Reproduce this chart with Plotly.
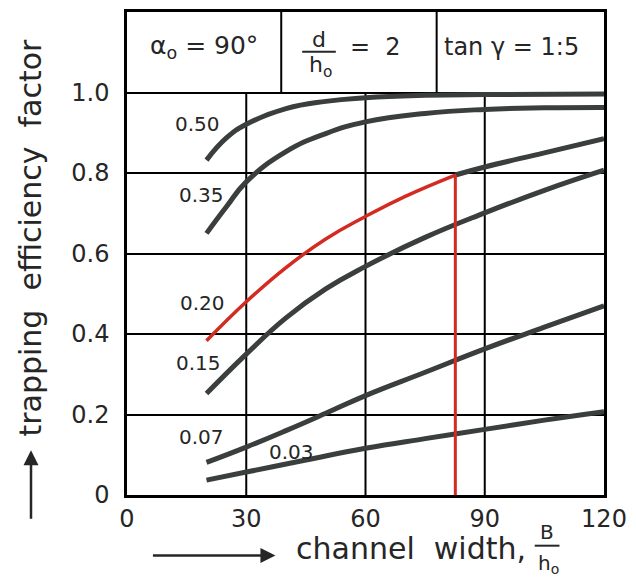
import plotly.graph_objects as go

# ---------------- data ----------------
x_050 = [20, 25, 30, 40, 50, 60, 75, 90, 120]
y_050 = [0.832, 0.887, 0.921, 0.960, 0.978, 0.987, 0.993, 0.995, 0.996]

x_035 = [20, 25, 30, 40, 50, 60, 75, 90, 105, 120]
y_035 = [0.650, 0.716, 0.778, 0.853, 0.898, 0.927, 0.948, 0.958, 0.962, 0.963]

x_020_red = [20, 30, 40, 50, 60, 70, 82.6]
y_020_red = [0.383, 0.480, 0.565, 0.636, 0.692, 0.742, 0.795]
x_020_rest = [82.6, 90, 105, 120]
y_020_rest = [0.795, 0.815, 0.850, 0.885]

x_015 = [20, 30, 40, 50, 60, 75, 90, 105, 120]
y_015 = [0.252, 0.350, 0.440, 0.512, 0.568, 0.640, 0.701, 0.757, 0.807]

x_007 = [20, 30, 40, 50, 60, 75, 90, 105, 120]
y_007 = [0.081, 0.119, 0.160, 0.203, 0.247, 0.305, 0.363, 0.417, 0.470]

x_003 = [20, 30, 45, 60, 75, 90, 105, 120]
y_003 = [0.037, 0.057, 0.087, 0.116, 0.140, 0.163, 0.186, 0.207]

curve_labels = ["0.50", "0.35", "0.20", "0.15", "0.07", "0.03"]
label_x = [17.7, 18.7, 18.9, 17.9, 18.7, 41.3]
label_y = [0.921, 0.746, 0.477, 0.328, 0.143, 0.106]

x_ticks = [0, 30, 60, 90, 120]
x_ticktext = ["0", "30", "60", "90", "120"]
y_ticks = [0, 0.2, 0.4, 0.6, 0.8, 1.0]
y_ticktext = ["0", "0.2", "0.4", "0.6", "0.8", "1.0"]

box_dividers = [38.8, 77.9]
grid_x = [30, 60, 90]

# ---------------- styling ----------------
FONT = "DejaVu Sans"
INK = "#262626"
GRAY = "#3a3e3d"
RED = "#d32a22"

fig = go.Figure()

def curve(xs, ys, color, width):
    fig.add_trace(go.Scatter(x=xs, y=ys, mode="lines",
                             line=dict(color=color, width=width, shape="spline", smoothing=1.3),
                             hoverinfo="skip", showlegend=False))

curve(x_050, y_050, GRAY, 5)
curve(x_035, y_035, GRAY, 5)
curve(x_020_rest, y_020_rest, GRAY, 5)
curve(x_015, y_015, GRAY, 5)
curve(x_007, y_007, GRAY, 5)
curve(x_003, y_003, GRAY, 5)
curve(x_020_red, y_020_red, RED, 3.5)
# red drop line from the end of the red segment
fig.add_trace(go.Scatter(x=[x_020_red[-1], x_020_red[-1]], y=[0, y_020_red[-1]], mode="lines",
                         line=dict(color=RED, width=3), hoverinfo="skip", showlegend=False))

L, R, T, B = 127, 27, 9, 88
PW, PH = 636 - L - R, 583 - T - B

def px(x):
    return (x - L) / PW

def py(y):
    return (583 - B - y) / PH

shapes = []
for gx in grid_x:
    shapes.append(dict(type="line", xref="x", yref="y", x0=gx, x1=gx, y0=0, y1=1.0,
                       line=dict(color="black", width=2), layer="below"))
for bx in box_dividers:
    shapes.append(dict(type="line", xref="x", yref="y", x0=bx, x1=bx, y0=1.0, y1=1.2,
                       line=dict(color="black", width=2)))
# fraction bar d/h_o
shapes.append(dict(type="line", xref="paper", yref="paper",
                   x0=px(304), x1=px(338), y0=py(49), y1=py(49),
                   line=dict(color=INK, width=2)))
# fraction bar B/h_o
shapes.append(dict(type="line", xref="paper", yref="paper",
                   x0=px(539), x1=px(564), y0=py(546), y1=py(546),
                   line=dict(color=INK, width=2)))

ann = []
for t, lx, ly in zip(curve_labels, label_x, label_y):
    ann.append(dict(x=lx, y=ly, xref="x", yref="y", text=t, showarrow=False,
                    xanchor="center", yanchor="middle",
                    font=dict(family=FONT, size=20, color=INK)))

def pa(x, y, text, size, **kw):
    d = dict(x=px(x), y=py(y), xref="paper", yref="paper", text=text,
             showarrow=False, xanchor="center", yanchor="middle",
             font=dict(family=FONT, size=size, color=INK))
    d.update(kw)
    return d

ann.append(pa(205, 44, "α<sub>o</sub> = 90°", 25))
ann.append(pa(321, 37, "d", 22))
ann.append(pa(323, 64, "h<sub>o</sub>", 22))
ann.append(pa(378, 44, "=  2", 24))
ann.append(pa(516, 44, "tan γ = 1:5", 24))

# axis titles
ann.append(pa(30, 236, "trapping  efficiency  factor", 30, textangle=-90))
ann.append(pa(296, 549, "channel  width,", 30, xanchor="left"))
ann.append(pa(551, 532, "B", 20))
ann.append(pa(553, 564, "h<sub>o</sub>", 20))

# arrows
ann.append(dict(x=px(30), y=py(450), xref="paper", yref="paper",
                ax=0, ay=70, axref="pixel", ayref="pixel", showarrow=True,
                arrowhead=2, arrowsize=1.2, arrowwidth=2.5, arrowcolor=INK, text=""))
ann.append(dict(x=px(277), y=py(556), xref="paper", yref="paper",
                ax=-124, ay=0, axref="pixel", ayref="pixel", showarrow=True,
                arrowhead=2, arrowsize=1.2, arrowwidth=2.5, arrowcolor=INK, text=""))

fig.update_layout(
    width=636, height=583,
    margin=dict(l=L, r=R, t=T, b=B),
    paper_bgcolor="white", plot_bgcolor="white",
    shapes=shapes, annotations=ann,
    xaxis=dict(range=[0, 120], tickvals=x_ticks, ticktext=x_ticktext, showgrid=False,
               zeroline=False, showline=True, mirror=True, linecolor="black", linewidth=2.5,
               ticks="", ticklabelstandoff=0,
               tickfont=dict(family=FONT, size=24, color=INK)),
    yaxis=dict(range=[0, 1.2], tickvals=y_ticks, ticktext=y_ticktext, showgrid=True,
               gridcolor="black", gridwidth=2, zeroline=False, showline=True, mirror=True,
               linecolor="black", linewidth=2.5, ticks="", ticklabelstandoff=10,
               tickfont=dict(family=FONT, size=24, color=INK)),
)

fig.write_html("out.html")
